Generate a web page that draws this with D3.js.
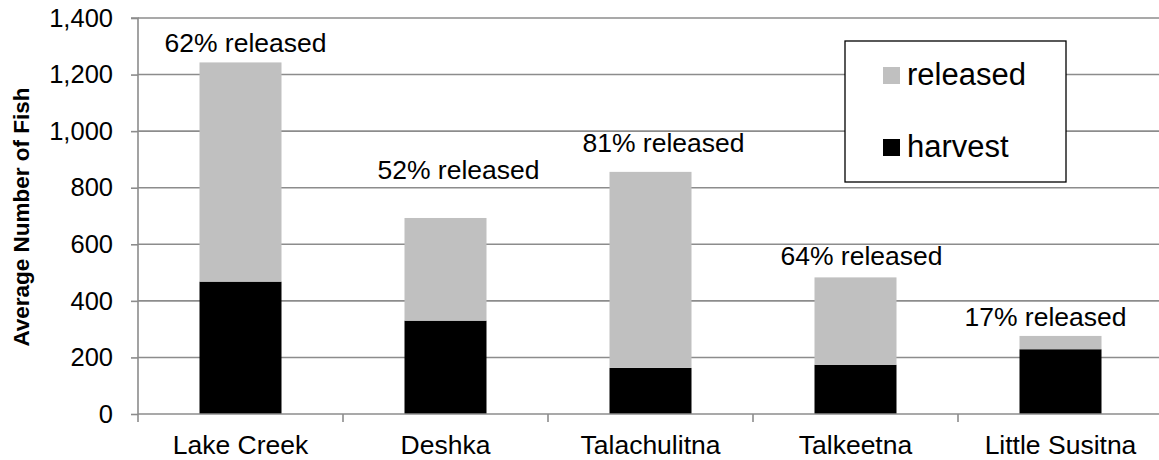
<!DOCTYPE html>
<html>
<head>
<meta charset="utf-8">
<script src="https://cdn.jsdelivr.net/npm/d3@7"></script>
<style>
  html, body { margin: 0; padding: 0; background: #fff; }
  svg { display: block; font-family: "Liberation Sans", Arial, sans-serif; }
</style>
</head>
<body>
<svg id="chart" width="1159" height="460"></svg>
<script>
// Average catch per fishery, split into fish kept and fish released
const rivers = ["Lake Creek", "Deshka", "Talachulitna", "Talkeetna", "Little Susitna"];
const harvest = [468, 330, 163, 174, 229];
const released = [775, 363, 693, 309, 47];
const releasedPct = ["62% released", "52% released", "81% released", "64% released", "17% released"];
const yTicks = [0, 200, 400, 600, 800, 1000, 1200, 1400];

// Text-box placement of each percentage label relative to its bar top
const labelShift = [[5, -10], [13, -39], [13, -20], [6, -12], [-15, -10]];

const W = 1159, H = 460;
const margin = { top: 18, right: -4, bottom: 46, left: 138 };
const svg = d3.select("#chart");
const g = svg.append("g").attr("transform", `translate(${margin.left},${margin.top})`);
const iw = W - margin.left - margin.right;
const ih = H - margin.top - margin.bottom;

const x = d3.scaleBand().domain(rivers).range([0, iw]).paddingInner(0.6).paddingOuter(0.3);
const y = d3.scaleLinear().domain([0, 1400]).range([ih, 0]);

const gridColor = "#8c8c8c";

// horizontal gridlines
g.append("g").selectAll("line").data(yTicks.filter(d => d > 0)).join("line")
  .attr("x1", 0).attr("x2", iw + 10)
  .attr("y1", d => y(d)).attr("y2", d => y(d))
  .attr("stroke", gridColor).attr("stroke-width", 1.6);

// y axis
const yAxis = g.append("g")
  .call(d3.axisLeft(y).tickValues(yTicks).tickSize(7).tickPadding(18).tickFormat(d3.format(",")));
yAxis.select(".domain").attr("stroke", gridColor).attr("stroke-width", 1.6).attr("d", `M-7,${y(1400)}H0V${ih}`);
yAxis.selectAll(".tick line").attr("stroke", gridColor).attr("stroke-width", 1.6);
yAxis.selectAll(".tick text").attr("font-size", 25.5).attr("fill", "#000")
  .attr("font-family", "Liberation Sans, Arial, sans-serif");

// stacked bars
const stack = rivers.map((r, i) => ({ river: r, harvest: harvest[i], released: released[i] }));
const series = d3.stack().keys(["harvest", "released"])(stack);
const colors = { harvest: "#000000", released: "#c0c0c0" };

g.append("g").selectAll("g").data(series).join("g")
  .attr("fill", s => colors[s.key])
  .selectAll("rect").data(s => s).join("rect")
  .attr("x", d => x(d.data.river))
  .attr("width", x.bandwidth())
  .attr("y", d => y(d[1]))
  .attr("height", d => y(d[0]) - y(d[1]));

// x axis along zero line with ticks between categories
const step = x.step();
const xAxisG = g.append("g").attr("transform", `translate(0,${ih})`);
xAxisG.append("line").attr("x1", 0).attr("x2", iw + 10).attr("y1", 0).attr("y2", 0)
  .attr("stroke", gridColor).attr("stroke-width", 1.6);
xAxisG.selectAll("line.tk").data(d3.range(rivers.length + 1)).join("line")
  .attr("class", "tk")
  .attr("x1", i => i * step).attr("x2", i => i * step)
  .attr("y1", 0).attr("y2", 8)
  .attr("stroke", gridColor).attr("stroke-width", 1.6);
xAxisG.selectAll("text").data(rivers).join("text")
  .attr("x", d => x(d) + x.bandwidth() / 2)
  .attr("y", 40)
  .attr("text-anchor", "middle")
  .attr("font-size", 26.5)
  .text(d => d);

// percentage labels
g.append("g").selectAll("text").data(rivers).join("text")
  .attr("x", (d, i) => x(d) + x.bandwidth() / 2 + labelShift[i][0])
  .attr("y", (d, i) => y(harvest[i] + released[i]) + labelShift[i][1])
  .attr("text-anchor", "middle")
  .attr("font-size", 26.5)
  .text((d, i) => releasedPct[i]);

// y axis title
svg.append("text")
  .attr("transform", `translate(29,${margin.top + ih / 2 + 1}) rotate(-90)`)
  .attr("text-anchor", "middle")
  .attr("font-size", 22.5)
  .attr("font-weight", "bold")
  .text("Average Number of Fish");

// legend
const legend = svg.append("g").attr("transform", "translate(845,41)");
legend.append("rect").attr("width", 221).attr("height", 141)
  .attr("fill", "#fff").attr("stroke", "#000").attr("stroke-width", 1.3);
const legendItems = [{ key: "released", label: "released", cy: 34 }, { key: "harvest", label: "harvest", cy: 106 }];
const li = legend.selectAll("g.item").data(legendItems).join("g").attr("class", "item");
li.append("rect").attr("x", 38).attr("y", d => d.cy - 8).attr("width", 17).attr("height", 17)
  .attr("fill", d => colors[d.key]);
li.append("text").attr("x", 62).attr("y", d => d.cy + 10).attr("font-size", 31).text(d => d.label);
</script>
</body>
</html>
